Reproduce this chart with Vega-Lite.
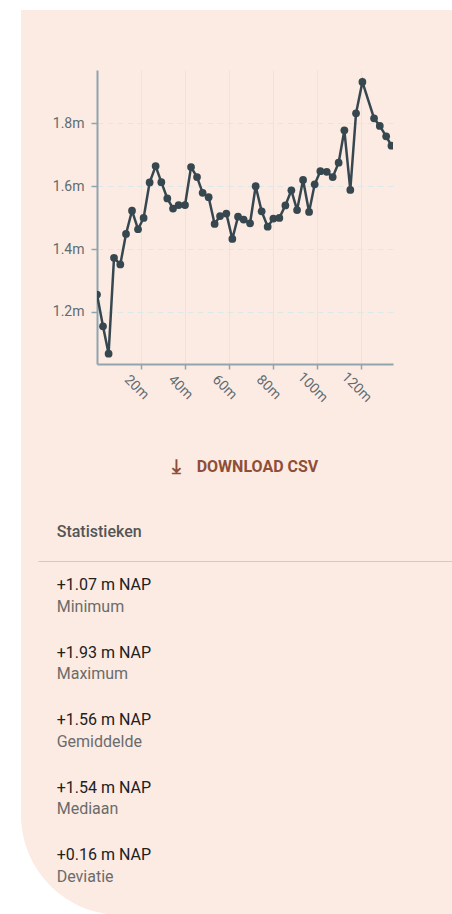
{
  "$schema": "https://vega.github.io/schema/vega-lite/v6.json",
  "background": "#fcebe3",
  "padding": 0,
  "spacing": 0,
  "bounds": "flush",
  "config": {
    "view": {"stroke": null},
    "concat": {"spacing": 0},
    "font": "Roboto"
  },
  "hconcat": [
    {"width": 21, "height": 914, "data": {"values": [{}]}, "mark": {"type": "rect", "color": "#ffffff"}},
    {
      "spacing": 0,
      "bounds": "full",
      "vconcat": [
        {"width": 431, "height": 10, "data": {"values": [{}]}, "mark": {"type": "rect", "color": "#ffffff"}},
        {"width": 431, "height": 60, "data": {"values": []}, "mark": "point"},
        {
          "spacing": 0,
          "bounds": "flush",
          "hconcat": [
            {"width": 76, "height": 294, "data": {"values": []}, "mark": "point"},
            {
              "width": 296,
              "height": 294,
              "data": {
                "values": [
                  {"afstand": 0.0, "hoogte": 1.255},
                  {"afstand": 2.73, "hoogte": 1.154},
                  {"afstand": 5.27, "hoogte": 1.067},
                  {"afstand": 7.73, "hoogte": 1.372},
                  {"afstand": 10.59, "hoogte": 1.351},
                  {"afstand": 13.18, "hoogte": 1.448},
                  {"afstand": 15.91, "hoogte": 1.522},
                  {"afstand": 18.64, "hoogte": 1.463},
                  {"afstand": 21.18, "hoogte": 1.499},
                  {"afstand": 23.91, "hoogte": 1.612},
                  {"afstand": 26.64, "hoogte": 1.664},
                  {"afstand": 29.23, "hoogte": 1.613},
                  {"afstand": 31.95, "hoogte": 1.561},
                  {"afstand": 34.55, "hoogte": 1.529},
                  {"afstand": 37.09, "hoogte": 1.54},
                  {"afstand": 40.0, "hoogte": 1.54},
                  {"afstand": 42.73, "hoogte": 1.661},
                  {"afstand": 45.45, "hoogte": 1.629},
                  {"afstand": 48.0, "hoogte": 1.579},
                  {"afstand": 50.73, "hoogte": 1.565},
                  {"afstand": 53.45, "hoogte": 1.48},
                  {"afstand": 55.91, "hoogte": 1.505},
                  {"afstand": 58.77, "hoogte": 1.513},
                  {"afstand": 61.5, "hoogte": 1.432},
                  {"afstand": 64.09, "hoogte": 1.503},
                  {"afstand": 66.64, "hoogte": 1.494},
                  {"afstand": 69.55, "hoogte": 1.482},
                  {"afstand": 72.1, "hoogte": 1.6},
                  {"afstand": 74.82, "hoogte": 1.52},
                  {"afstand": 77.55, "hoogte": 1.471},
                  {"afstand": 80.14, "hoogte": 1.497},
                  {"afstand": 82.86, "hoogte": 1.499},
                  {"afstand": 85.59, "hoogte": 1.539},
                  {"afstand": 88.32, "hoogte": 1.587},
                  {"afstand": 90.91, "hoogte": 1.524},
                  {"afstand": 93.64, "hoogte": 1.62},
                  {"afstand": 96.36, "hoogte": 1.518},
                  {"afstand": 98.91, "hoogte": 1.606},
                  {"afstand": 101.5, "hoogte": 1.648},
                  {"afstand": 104.4, "hoogte": 1.646},
                  {"afstand": 107.1, "hoogte": 1.629},
                  {"afstand": 109.8, "hoogte": 1.675},
                  {"afstand": 112.4, "hoogte": 1.778},
                  {"afstand": 115.1, "hoogte": 1.588},
                  {"afstand": 117.7, "hoogte": 1.832},
                  {"afstand": 120.6, "hoogte": 1.932},
                  {"afstand": 125.9, "hoogte": 1.816},
                  {"afstand": 128.5, "hoogte": 1.792},
                  {"afstand": 131.4, "hoogte": 1.759},
                  {"afstand": 133.8, "hoogte": 1.729}
                ]
              },
              "encoding": {
                "x": {
                  "field": "afstand",
                  "type": "quantitative",
                  "scale": {"domain": [0, 134.5], "nice": false, "zero": false},
                  "axis": {
                    "title": null,
                    "values": [20, 40, 60, 80, 100, 120],
                    "labelExpr": "datum.value + 'm'",
                    "labelAngle": 45,
                    "labelAlign": "center",
                    "labelBaseline": "middle",
                    "labelPadding": 18,
                    "labelOffset": -5,
                    "labelFontSize": 14,
                    "labelColor": "#5f6b72",
                    "domainColor": "#90a4ae",
                    "domainWidth": 2,
                    "tickColor": "#90a4ae",
                    "tickWidth": 1.5,
                    "tickSize": 5,
                    "gridColor": "#dde8ea",
                    "gridWidth": 1
                  }
                },
                "y": {
                  "field": "hoogte",
                  "type": "quantitative",
                  "scale": {"domain": [1.034, 1.97], "nice": false, "zero": false},
                  "axis": {
                    "title": null,
                    "values": [1.2, 1.4, 1.6, 1.8],
                    "format": ".1f",
                    "labelExpr": "datum.label + 'm'",
                    "labelFontSize": 14,
                    "labelColor": "#5f6b72",
                    "labelPadding": 7,
                    "domainColor": "#90a4ae",
                    "domainWidth": 2,
                    "tickColor": "#90a4ae",
                    "tickWidth": 1.5,
                    "tickSize": 6,
                    "gridColor": "#dde8ea",
                    "gridWidth": 1,
                    "gridDash": [6, 4]
                  }
                }
              },
              "layer": [
                {"mark": {"type": "line", "color": "#37474f", "strokeWidth": 2.5, "clip": true}},
                {"mark": {"type": "point", "filled": true, "color": "#37474f", "size": 60, "opacity": 1, "clip": true}}
              ]
            }
          ]
        },
        {"width": 431, "height": 27, "data": {"values": []}, "mark": "point"},
        {
          "width": 431,
          "height": 70,
          "data": {"values": [{"knop": "DOWNLOAD CSV", "icoon": "⤓"}]},
          "layer": [
            {
              "mark": {"type": "text", "font": "DejaVu Sans", "fontWeight": "bold", "fontSize": 20, "color": "#8e4e38", "dx": -60, "dy": 0},
              "encoding": {"text": {"field": "icoon"}}
            },
            {
              "mark": {"type": "text", "font": "Roboto", "fontWeight": "bold", "fontSize": 16, "color": "#8e4e38", "dx": 21},
              "encoding": {"text": {"field": "knop"}}
            }
          ]
        },
        {
          "spacing": 0,
          "bounds": "flush",
          "hconcat": [
            {"width": 17, "height": 60, "data": {"values": []}, "mark": "point"},
            {
              "width": 414,
              "height": 60,
              "data": {"values": [{"kop": "Statistieken", "kolom": "a"}]},
              "mark": {"type": "text", "align": "left", "baseline": "middle", "font": "Roboto", "fontWeight": 500, "fontSize": 16, "color": "#555555", "dy": 0},
              "encoding": {
                "x": {
                  "field": "kolom",
                  "type": "nominal",
                  "bandPosition": 0,
                  "scale": {"type": "band", "paddingInner": 0, "paddingOuter": 0.02365, "align": 1},
                  "axis": {"title": null, "labels": false, "ticks": false, "grid": false, "offset": -1, "domainColor": "#d3c9c5", "domainWidth": 1}
                },
                "text": {"field": "kop"}
              }
            }
          ]
        },
        {
          "width": 431,
          "height": 353,
          "data": {
            "values": [
              {"volgorde": 1, "waarde": "+1.07 m NAP", "maat": "Minimum", "kolom": "a"},
              {"volgorde": 2, "waarde": "+1.93 m NAP", "maat": "Maximum", "kolom": "a"},
              {"volgorde": 3, "waarde": "+1.56 m NAP", "maat": "Gemiddelde", "kolom": "a"},
              {"volgorde": 4, "waarde": "+1.54 m NAP", "maat": "Mediaan", "kolom": "a"},
              {"volgorde": 5, "waarde": "+0.16 m NAP", "maat": "Deviatie", "kolom": "a"}
            ]
          },
          "layer": [
            {"data": {"values": [{}]}, "mark": {"type": "rect", "color": "#ffffff"}},
            {"data": {"values": [{}]}, "mark": {"type": "rect", "color": "#fcebe3", "cornerRadiusBottomLeft": 100}},
            {
              "mark": {"type": "text", "align": "left", "baseline": "middle", "font": "Roboto", "fontSize": 16, "color": "#212121", "dy": -10.5},
              "encoding": {
                "x": {"field": "kolom", "type": "nominal", "bandPosition": 0, "scale": {"type": "band", "paddingInner": 0, "paddingOuter": 0.04516, "align": 1}, "axis": null},
                "y": {"field": "volgorde", "type": "ordinal", "scale": {"type": "band", "paddingInner": 0, "paddingOuter": 0.1148, "align": 0}, "axis": null},
                "text": {"field": "waarde"}
              }
            },
            {
              "mark": {"type": "text", "align": "left", "baseline": "middle", "font": "Roboto", "fontSize": 16, "color": "#6b6b6b", "dy": 11},
              "encoding": {
                "x": {"field": "kolom", "type": "nominal", "bandPosition": 0, "scale": {"type": "band", "paddingInner": 0, "paddingOuter": 0.04516, "align": 1}, "axis": null},
                "y": {"field": "volgorde", "type": "ordinal", "scale": {"type": "band", "paddingInner": 0, "paddingOuter": 0.1148, "align": 0}, "axis": null},
                "text": {"field": "maat"}
              }
            }
          ]
        }
      ]
    }
  ]
}
